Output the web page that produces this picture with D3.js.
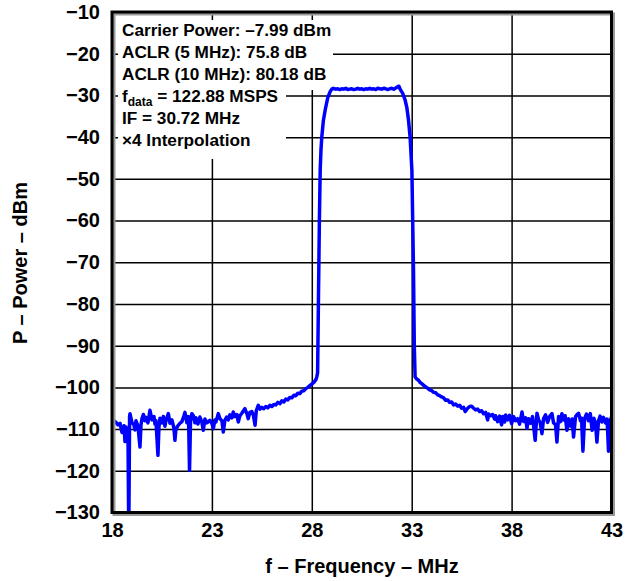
<!DOCTYPE html>
<html>
<head>
<meta charset="utf-8">
<script src="https://cdn.jsdelivr.net/npm/d3@7"></script>
<style>
  html, body { margin: 0; padding: 0; background: #fff; }
  svg { display: block; font-family: "Liberation Sans", Arial, sans-serif; }
</style>
</head>
<body>
<svg id="chart" width="629" height="581"></svg>
<script>
// ---- data ----
const freqTicks = [18, 23, 28, 33, 38, 43];
const powerTicks = [-10, -20, -30, -40, -50, -60, -70, -80, -90, -100, -110, -120, -130];

const freqMHz = [
  18.0, 18.1, 18.2, 18.3, 18.4, 18.5, 18.6, 18.65, 18.7, 18.8, 18.84, 18.88, 18.9, 19.0, 19.1, 19.15,
  19.2, 19.3, 19.4, 19.45, 19.5, 19.57, 19.65, 19.7, 19.8, 19.9, 20.0, 20.1, 20.15, 20.2, 20.3, 20.35,
  20.4, 20.5, 20.57, 20.65, 20.7, 20.82, 20.9, 21.0, 21.1, 21.15, 21.2, 21.3, 21.4, 21.5, 21.6, 21.65,
  21.75, 21.83, 21.88, 21.93, 22.0, 22.07, 22.15, 22.2, 22.3, 22.4, 22.5, 22.57, 22.65, 22.75, 22.9,
  23.0, 23.07, 23.15, 23.2, 23.32, 23.4, 23.5, 23.57, 23.65, 23.74, 23.82, 23.9, 24.0, 24.07, 24.15,
  24.25, 24.32, 24.4, 24.5, 24.58, 24.65, 24.75, 24.82, 24.9, 25.0, 25.08, 25.16, 25.22, 25.32, 25.4,
  25.5, 25.6, 25.7, 25.8, 25.9, 26.0, 26.1, 26.2, 26.3, 26.4, 26.5, 26.6, 26.7, 26.8, 26.9, 27.0,
  27.1, 27.2, 27.3, 27.4, 27.5, 27.6, 27.7, 27.8, 27.9, 28.0, 28.1, 28.2, 28.25,
  // passband
  28.29, 28.33, 28.38, 28.42, 28.46, 28.5, 28.58, 28.67, 28.8, 28.92, 29.0, 29.08,
  29.2, 29.3, 29.4, 29.5, 29.6, 29.7, 29.8, 29.9, 30.0, 30.1, 30.2, 30.3, 30.4, 30.5, 30.6, 30.7,
  30.8, 30.9, 31.0, 31.1, 31.2, 31.3, 31.4, 31.5, 31.6, 31.7, 31.8, 31.9, 32.0, 32.1, 32.2, 32.3,
  32.36, 32.42, 32.55, 32.67, 32.76, 32.84, 32.92, 33.01, 33.05, 33.09, 33.13, 33.17,
  // upper side
  33.25, 33.34, 33.42, 33.5, 33.6, 33.7, 33.8, 33.9, 34.0, 34.1, 34.2, 34.3, 34.4, 34.5, 34.6, 34.7,
  34.8, 34.9, 35.0, 35.1, 35.2, 35.3, 35.4, 35.5, 35.6, 35.68, 35.8, 35.9, 36.0, 36.1, 36.2, 36.3,
  36.4, 36.5, 36.6, 36.7, 36.8, 36.85, 36.95, 37.05, 37.15, 37.2, 37.3, 37.4, 37.5, 37.55, 37.65,
  37.7, 37.8, 37.9, 38.0, 38.1, 38.2, 38.3, 38.4, 38.52, 38.6, 38.7, 38.77, 38.85, 38.95, 39.05,
  39.18, 39.27, 39.35, 39.43, 39.52, 39.6, 39.7, 39.8, 39.9, 40.02, 40.1, 40.2, 40.27, 40.35, 40.45,
  40.52, 40.6, 40.68, 40.77, 40.85, 40.95, 41.03, 41.1, 41.2, 41.28, 41.35, 41.45, 41.5, 41.57, 41.65,
  41.75, 41.85, 41.94, 42.03, 42.12, 42.2, 42.27, 42.35, 42.43, 42.52, 42.6, 42.7, 42.78, 42.85, 42.93, 43.0
];

const powerDbm = [
  -109.5, -108.0, -108.4, -109.0, -108.6, -110.8, -109.2, -113.0, -109.5, -111.0, -136.0, -107.0, -106.3, -108.5, -109.0, -110.2,
  -108.0, -109.3, -114.3, -109.0, -107.5, -106.5, -108.0, -107.2, -108.5, -105.5, -107.8, -107.0, -108.8, -108.0, -116.3, -109.5,
  -107.4, -108.5, -107.0, -109.3, -108.0, -106.3, -108.6, -107.8, -109.8, -112.7, -110.0, -109.2, -108.6, -108.2, -106.8, -106.0,
  -108.5, -107.0, -119.9, -108.0, -106.3, -106.8, -108.5, -107.3, -108.8, -107.1, -108.4, -110.3, -107.6, -108.5, -107.9,
  -108.6, -109.9, -107.8, -108.3, -106.3, -107.5, -108.0, -110.7, -107.9, -107.1, -107.8, -106.6, -107.3, -105.9, -107.0,
  -106.5, -108.3, -106.8, -106.2, -105.6, -105.1, -106.3, -107.5, -106.0, -105.8, -106.8, -109.1, -105.6, -104.3, -105.2,
  -104.8, -105.1, -104.6, -104.9, -104.3, -104.6, -104.1, -104.2, -103.6, -103.9, -103.2, -103.5, -102.8, -103.0, -102.4, -102.5,
  -101.9, -102.0, -101.4, -101.5, -100.9, -100.8, -100.3, -100.0, -99.6, -99.2, -98.8, -98.2, -97.5,
  // passband
  -96.5, -80.0, -60.0, -48.0, -43.0, -40.0, -36.0, -33.5, -30.5, -29.1, -28.5, -28.3,
  -28.5, -28.4, -28.6, -28.4, -28.5, -28.3, -28.6, -28.5, -28.4, -28.6, -28.5, -28.3, -28.5, -28.4, -28.6, -28.4,
  -28.5, -28.3, -28.5, -28.4, -28.6, -28.3, -28.4, -28.5, -28.3, -28.4, -28.6, -28.4, -28.3, -28.5, -28.2, -27.9,
  -27.8, -28.5, -29.5, -31.1, -33.0, -35.9, -40.0, -48.0, -60.0, -72.0, -90.0, -97.5,
  // upper side
  -98.0, -98.3, -98.8, -99.1, -99.5, -99.9, -100.2, -100.6, -100.8, -101.2, -101.3, -101.8, -102.0, -102.3, -102.5, -103.1,
  -103.0, -103.6, -103.5, -104.2, -104.0, -104.5, -104.3, -105.0, -104.8, -105.8, -105.0, -104.6, -104.5, -105.0, -105.4, -105.2,
  -105.8, -105.6, -106.3, -106.0, -107.8, -106.4, -106.8, -106.5, -107.6, -106.8, -108.2, -106.9, -109.0, -107.0, -108.3,
  -106.6, -107.8, -106.7, -108.7, -107.0, -108.0, -107.5, -108.8, -105.9, -108.2, -107.3, -109.8, -107.5, -108.6, -107.0,
  -112.7, -106.2, -107.8, -108.4, -111.1, -107.5, -106.6, -108.4, -107.0, -106.3, -108.5, -109.0, -113.1, -107.0, -108.2,
  -106.3, -107.8, -106.8, -110.3, -107.5, -109.3, -107.6, -111.9, -107.0, -106.5, -106.2, -108.0, -107.4, -115.3, -107.5,
  -106.4, -108.0, -106.3, -110.3, -107.4, -108.6, -113.1, -108.0, -106.9, -108.3, -107.2, -108.5, -107.6, -115.3, -108.0, -107.1
];

const infoLines = [
  "Carrier Power: \u20137.99 dBm",
  "ACLR (5 MHz): 75.8 dB",
  "ACLR (10 MHz): 80.18 dB",
  "f|data| = 122.88 MSPS",
  "IF = 30.72 MHz",
  "\u00d74 Interpolation"
];
const xTitle = "f \u2013 Frequency \u2013 MHz";
const yTitle = "P \u2013 Power \u2013 dBm";

// ---- layout ----
const svg = d3.select("#chart");
const L = 112, R = 611.5, T = 12, B = 512.5;
const x = d3.scaleLinear().domain([18, 43]).range([L, R]);
const y = d3.scaleLinear().domain([-130, -10]).range([B, T]);

// grid lines via axes
const gx = svg.append("g").attr("transform", `translate(0,${B})`)
  .call(d3.axisBottom(x).tickValues(freqTicks).tickSize(-(B - T)).tickFormat(""));
const gy = svg.append("g").attr("transform", `translate(${L},0)`)
  .call(d3.axisLeft(y).tickValues(powerTicks).tickSize(-(R - L)).tickFormat(""));
[gx, gy].forEach(g => {
  g.select(".domain").remove();
  g.selectAll(".tick line").attr("stroke", "#000").attr("stroke-width", 1.5);
});

// white background behind the annotation block
svg.append("rect").attr("x", 118).attr("y", 20).attr("width", 215).attr("height", 70).attr("fill", "#fff");
svg.append("rect").attr("x", 118).attr("y", 90).attr("width", 168).attr("height", 69).attr("fill", "#fff");

// annotation text
const info = svg.append("g").attr("font-weight", "bold").attr("font-size", 17.2).attr("fill", "#000");
infoLines.forEach((s, i) => {
  const t = info.append("text").attr("x", 122).attr("y", 35.7 + i * 22);
  const parts = s.split("|");
  if (parts.length === 3) {
    t.append("tspan").text(parts[0]);
    t.append("tspan").attr("font-size", 12).attr("dy", 4).text(parts[1]);
    t.append("tspan").attr("dy", -4).text(parts[2]);
  } else {
    t.text(s);
  }
});

// trace
svg.append("clipPath").attr("id", "clip").append("rect")
  .attr("x", L).attr("y", T).attr("width", R - L).attr("height", B - T);
const pts = freqMHz.map((f, i) => [f, powerDbm[i]]);
svg.append("path")
  .datum(pts)
  .attr("clip-path", "url(#clip)")
  .attr("fill", "none")
  .attr("stroke", "#0000ff")
  .attr("stroke-width", 3.5)
  .attr("stroke-linejoin", "round")
  .attr("d", d3.line().x(d => x(d[0])).y(d => y(d[1])));

// frame with soft shadow
svg.append("rect").attr("x", L + 2).attr("y", T + 2).attr("width", R - L).attr("height", B - T)
  .attr("fill", "none").attr("stroke", "#999").attr("stroke-width", 3);
svg.append("rect").attr("x", L).attr("y", T).attr("width", R - L).attr("height", B - T)
  .attr("fill", "none").attr("stroke", "#000").attr("stroke-width", 3);

// tick labels via axes
const lx = svg.append("g").attr("transform", `translate(0,${B})`)
  .call(d3.axisBottom(x).tickValues(freqTicks).tickSize(0).tickPadding(10).tickFormat(d3.format("d")));
const ly = svg.append("g").attr("transform", `translate(${L},0)`)
  .call(d3.axisLeft(y).tickValues(powerTicks).tickSize(0).tickPadding(12).tickFormat(d3.format("d")));
[lx, ly].forEach(g => {
  g.select(".domain").remove();
  g.selectAll("text").attr("font-family", "Liberation Sans, Arial, sans-serif")
    .attr("font-size", 20).attr("font-weight", "bold").attr("fill", "#000");
});

// axis titles
svg.append("text").attr("x", 362).attr("y", 573).attr("text-anchor", "middle")
  .attr("font-size", 20).attr("font-weight", "bold").text(xTitle);
svg.append("text").attr("transform", "translate(27,263) rotate(-90)").attr("text-anchor", "middle")
  .attr("font-size", 20).attr("font-weight", "bold").text(yTitle);
</script>
</body>
</html>
